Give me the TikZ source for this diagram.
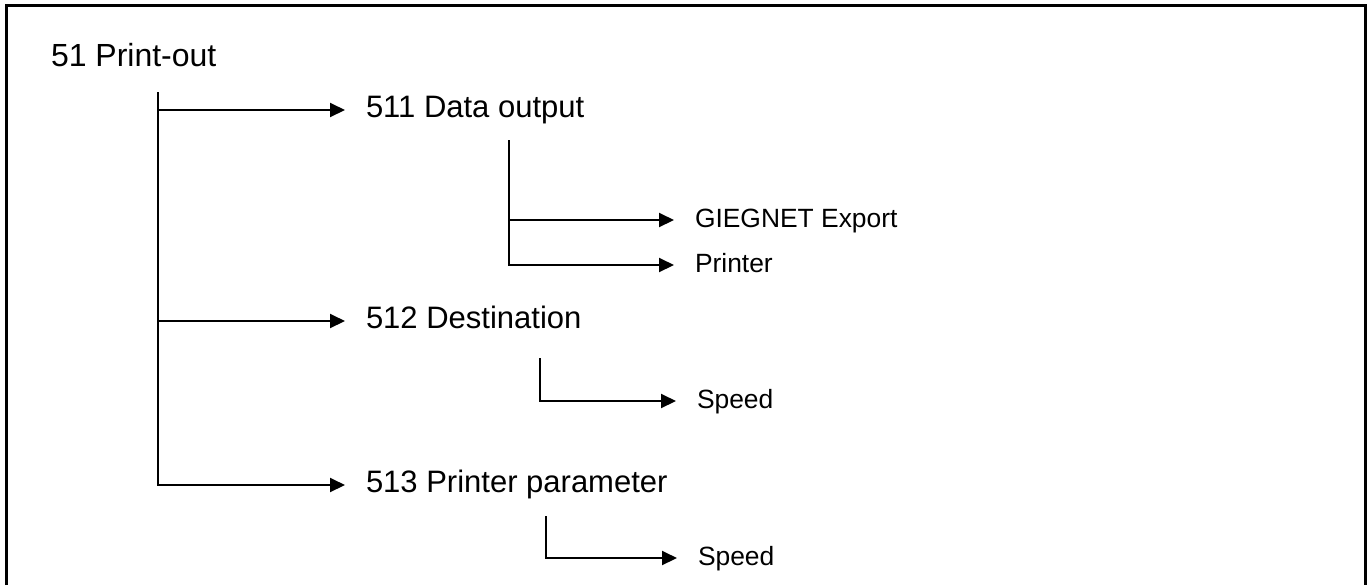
\documentclass[tikz,border=0pt]{standalone}
\usepackage{fontspec}
\setmainfont{Liberation Sans}
\usetikzlibrary{arrows.meta}

\begin{document}
\begin{tikzpicture}[x=0.5pt, y=-0.5pt, line width=1pt,
  big/.style={anchor=west, inner sep=0pt, text height=0.716em, text depth=0pt, font=\fontsize{15.5}{18}\selectfont},
  small/.style={big, font=\fontsize{13.2}{16}\selectfont},
  link/.style={-{Triangle[length=7.5pt,width=7pt]}, shorten >=10pt}]
\useasboundingbox (0,0) rectangle (1370,585);
% frame
\draw[line width=1.5pt] (6,585) -- (6,5) -- (1365,5) -- (1365,585);

\node[big, font=\fontsize{16}{19}\selectfont] (n51) at (50,59) {51 Print-out};
\node[big] (n511) at (365,110) {511 Data output};
\node[big] (n512) at (365,321) {512 Destination};
\node[big] (n513) at (365,485) {513 Printer parameter};
\node[small] (gie) at (694,220) {GIEGNET Export};
\node[small] (prn) at (694,265) {Printer};
\node[small] (spd1) at (696,401) {Speed};
\node[small] (spd2) at (697,558) {Speed};

% trunk tops
\coordinate (trunk) at (158,92);
\coordinate (t511) at (509,140);
\coordinate (t512) at (540,358);
\coordinate (t513) at (546,516);

\draw[link] (trunk) |- (n513);
\draw[link] (trunk |- n511) -- (n511);
\draw[link] (trunk |- n512) -- (n512);
\draw[link] (t511) |- (prn);
\draw[link] (t511 |- gie) -- (gie);
\draw[link] (t512) |- (spd1);
\draw[link] (t513) |- (spd2);
\end{tikzpicture}
\end{document}
